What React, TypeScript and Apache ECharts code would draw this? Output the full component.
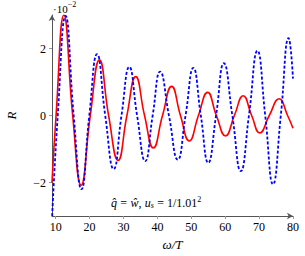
import React, { useEffect, useRef } from 'react';
import * as echarts from 'echarts';

// values in units of 10^-2
const xTicks = [10, 20, 30, 40, 50, 60, 70, 80];
const yTicks = [-2, 0, 2];
const redX = [8.9, 10.1, 12.4, 15.0, 17.5, 20.2, 22.9, 25.6, 28.4, 31.0, 33.6, 36.2, 38.8, 41.5, 44.2, 46.8, 49.4, 52.1, 54.8, 57.4, 60.1, 62.7, 65.3, 67.8, 70.2, 73.0, 75.9, 78.4, 80];
const redY = [-2.0, 0, 3.0, 0, -2.08, 0, 1.66, 0, -1.34, 0, 1.16, 0, -0.97, 0, 0.87, 0, -0.76, 0, 0.69, 0, -0.61, 0, 0.59, 0, -0.52, 0, 0.5, 0, -0.38];
const blueX = [8.95, 10.6, 12.9, 15.3, 17.6, 19.9, 22.2, 24.6, 27.1, 29.4, 31.7, 34.0, 36.4, 38.6, 40.8, 43.4, 46.0, 48.3, 50.6, 52.8, 55.0, 57.3, 59.6, 62.1, 64.6, 67.0, 69.5, 71.8, 74.1, 76.4, 78.7, 80];
const blueY = [-3.0, 0, 2.97, 0, -2.2, 0, 1.83, 0, -1.6, 0, 1.45, 0, -1.36, 0, 1.31, 0, -1.32, 0, 1.42, 0, -1.41, 0, 1.56, 0, -1.66, 0, 1.93, 0, -2.05, 0, 2.31, 1.1];

const FONT = 'Liberation Serif';

export default function App() {
  const ref = useRef<HTMLDivElement>(null);
  useEffect(() => {
    const chart = echarts.init(ref.current!, null, { renderer: 'svg' });
    const fmt = (v: number) => (v < 0 ? '\u2212' + Math.abs(v) : String(v));
    chart.setOption({
      animation: false,
      textStyle: { fontFamily: FONT },
      grid: { left: 52, right: 12, top: 15, bottom: 40, outerBoundsMode: 'none' },
      xAxis: {
        type: 'value',
        min: 8.9,
        max: 80,
        name: 'ω/T',
        nameLocation: 'middle',
        nameGap: 22,
        nameTextStyle: { fontFamily: FONT, fontSize: 13, fontStyle: 'italic', color: '#000' },
        axisLine: { onZero: false, lineStyle: { color: '#555', width: 1 }, symbol: ['none', 'arrow'], symbolSize: [5, 6] },
        axisTick: { show: true, length: 3, customValues: xTicks, lineStyle: { color: '#999' } },
        axisLabel: { customValues: xTicks, fontFamily: FONT, fontSize: 12, color: '#000', margin: 5, formatter: fmt },
        splitLine: { show: false },
      },
      yAxis: {
        type: 'value',
        min: -3,
        max: 3,
        name: 'R',
        nameLocation: 'middle',
        nameGap: 34,
        nameTextStyle: { fontFamily: FONT, fontSize: 13, fontStyle: 'italic', color: '#000' },
        axisLine: { onZero: false, lineStyle: { color: '#555', width: 1 }, symbol: ['none', 'arrow'], symbolSize: [5, 6] },
        axisTick: { show: true, length: 3, customValues: yTicks, lineStyle: { color: '#999' } },
        axisLabel: { customValues: yTicks, fontFamily: FONT, fontSize: 12, color: '#000', margin: 6, formatter: fmt },
        splitLine: { show: false },
      },
      graphic: [
        {
          type: 'text',
          left: 53,
          top: 0,
          style: {
            text: '{a|·10}{s|\u22122}',
            rich: {
              a: { fontFamily: FONT, fontSize: 11, fill: '#000', verticalAlign: 'bottom' },
              s: { fontFamily: FONT, fontSize: 8, fill: '#000', padding: [0, 0, 6, 0] },
            },
          },
        },
        {
          type: 'text',
          left: 111,
          top: 195,
          style: {
            text: '{i|q\u0302} {n|=} {i|w\u0302}{n|,} {i|u}{sub|s} {n|= 1/1.01}{sup|2}',
            rich: {
              i: { fontFamily: FONT, fontSize: 12, fontStyle: 'italic', fill: '#000' },
              n: { fontFamily: FONT, fontSize: 12, fill: '#000' },
              sub: { fontFamily: FONT, fontSize: 8, fontStyle: 'italic', fill: '#000', padding: [6, 0, 0, 0] },
              sup: { fontFamily: FONT, fontSize: 8, fill: '#000', padding: [0, 0, 7, 0] },
            },
          },
        },
      ],
      series: [
        {
          type: 'line',
          data: redX.map((x, i) => [x, redY[i]]),
          smooth: 0.5,
          showSymbol: false,
          clip: true,
          lineStyle: { color: '#ff0000', width: 1.6 },
        },
        {
          type: 'line',
          data: blueX.map((x, i) => [x, blueY[i]]),
          smooth: 0.5,
          showSymbol: false,
          clip: true,
          lineStyle: { color: '#0000ff', width: 1.8, type: [3, 2] },
        },
      ],
    });
    return () => chart.dispose();
  }, []);
  return <div ref={ref} style={{ width: 305, height: 256, position: 'absolute', left: 0, top: 0 }} />;
}
